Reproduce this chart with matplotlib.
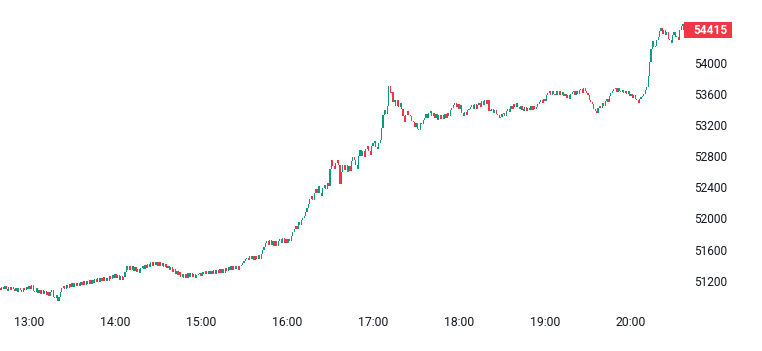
import numpy as np
import matplotlib.pyplot as plt
from matplotlib.patches import Rectangle
from matplotlib.transforms import blended_transform_factory

plt.rcParams['font.family'] = ['Roboto', 'DejaVu Sans']

# 1-minute closes, 12:40 .. 20:37
first_open = 51100
closes_1240 = [51080, 51125, 51090, 51130, 51095, 51070, 51120, 51085, 51125, 51090,
               51065, 51110, 51060, 51105, 51075, 51055, 51110, 51080, 51125, 51090]
closes_13 = [51135, 51090, 51140, 51070, 51055, 51100, 51045, 51085, 51035, 51075,
             51025, 51070, 51020, 51060, 51010, 51055, 51085, 50995, 50975, 51015,
             50945, 50985, 51060, 51105, 51135, 51090, 51145, 51105, 51155, 51115,
             51165, 51120, 51170, 51130, 51175, 51135, 51180, 51140, 51195, 51150,
             51200, 51155, 51205, 51160, 51215, 51170, 51225, 51180, 51230, 51185,
             51240, 51190, 51250, 51200, 51240, 51195, 51255, 51220, 51275, 51235]
closes_14 = [51280, 51230, 51270, 51215, 51260, 51205, 51245, 51310, 51385, 51335,
             51390, 51340, 51390, 51330, 51375, 51310, 51355, 51300, 51360, 51390,
             51350, 51405, 51365, 51420, 51380, 51435, 51395, 51445, 51400, 51440,
             51395, 51435, 51390, 51425, 51375, 51410, 51360, 51395, 51335, 51370,
             51310, 51350, 51290, 51330, 51270, 51310, 51245, 51285, 51230, 51280,
             51240, 51295, 51250, 51295, 51245, 51285, 51240, 51275, 51290, 51305]
closes_15 = [51265, 51315, 51280, 51325, 51285, 51330, 51285, 51325, 51290, 51335,
             51290, 51340, 51295, 51345, 51300, 51350, 51305, 51365, 51325, 51380,
             51335, 51385, 51340, 51390, 51345, 51385, 51340, 51390, 51400, 51430,
             51455, 51480, 51490, 51460, 51520, 51475, 51520, 51470, 51515, 51475,
             51525, 51480, 51545, 51590, 51630, 51690, 51715, 51660, 51720, 51660,
             51710, 51650, 51705, 51640, 51710, 51735, 51680, 51745, 51690, 51735]
closes_16 = [51685, 51740, 51705, 51770, 51830, 51870, 51900, 51865, 51950, 51910,
             51985, 52005, 52030, 52080, 52135, 52180, 52245, 52285, 52240, 52330,
             52375, 52325, 52420, 52320, 52290, 52395, 52430, 52380, 52455, 52410,
             52635, 52755, 52675, 52635, 52715, 52750, 52680, 52440, 52595, 52685,
             52625, 52690, 52600, 52675, 52615, 52735, 52795, 52745, 52680, 52640,
             52805, 52885, 52805, 52865, 52790, 52895, 52935, 52860, 52820, 52925]
closes_17 = [52965, 52990, 52915, 52890, 52970, 53005, 53165, 53325, 53395, 53345,
             53445, 53700, 53610, 53625, 53495, 53515, 53445, 53520, 53430, 53485,
             53405, 53310, 53235, 53325, 53380, 53330, 53320, 53245, 53240, 53180,
             53225, 53150, 53140, 53220, 53215, 53270, 53285, 53335, 53290, 53360,
             53375, 53315, 53355, 53290, 53335, 53270, 53325, 53275, 53330, 53280,
             53335, 53285, 53355, 53310, 53390, 53420, 53460, 53480, 53425, 53470]
closes_18 = [53410, 53455, 53350, 53310, 53365, 53325, 53390, 53410, 53435, 53455,
             53405, 53465, 53410, 53460, 53480, 53430, 53505, 53455, 53515, 53470,
             53520, 53380, 53385, 53405, 53350, 53390, 53335, 53330, 53290, 53300,
             53335, 53355, 53320, 53385, 53405, 53370, 53440, 53400, 53465, 53425,
             53480, 53430, 53410, 53445, 53395, 53385, 53425, 53375, 53420, 53390,
             53440, 53395, 53445, 53400, 53435, 53465, 53495, 53520, 53480, 53540]
closes_19 = [53505, 53585, 53615, 53635, 53585, 53640, 53595, 53580, 53640, 53590,
             53635, 53585, 53625, 53570, 53600, 53545, 53580, 53530, 53595, 53620,
             53635, 53590, 53640, 53595, 53645, 53660, 53610, 53675, 53635, 53610,
             53580, 53520, 53495, 53465, 53410, 53385, 53355, 53420, 53450, 53415,
             53485, 53450, 53510, 53540, 53500, 53575, 53610, 53635, 53660, 53675,
             53625, 53680, 53635, 53620, 53655, 53605, 53640, 53595, 53630, 53575]
closes_20 = [53600, 53550, 53590, 53530, 53515, 53480, 53535, 53560, 53575, 53600,
             53650, 53690, 53830, 54010, 54170, 54275, 54205, 54220, 54295, 54335,
             54405, 54440, 54370, 54415, 54350, 54390, 54310, 54285, 54250, 54350,
             54400, 54335, 54335, 54290, 54420, 54470, 54495, 54415]

closes = np.array(closes_1240 + closes_13 + closes_14 + closes_15 + closes_16
                  + closes_17 + closes_18 + closes_19 + closes_20, dtype=float)
opens = np.concatenate([[first_open], closes[:-1]])

hour_labels = ['13:00', '14:00', '15:00', '16:00', '17:00', '18:00', '19:00', '20:00']
hour_index = [20, 80, 140, 200, 260, 320, 380, 440]   # minute index of each full hour
price_ticks = [51200, 51600, 52000, 52400, 52800, 53200, 53600, 54000]

up_color = '#089981'
down_color = '#F23645'
text_color = '#131722'

fig = plt.figure(figsize=(7.62, 3.51), dpi=100)
ax = fig.add_axes([0, 46 / 351, 686 / 762, 305 / 351])

idx = np.arange(len(closes))
up = closes >= opens
colors = np.where(up, up_color, down_color)
bottoms = np.minimum(opens, closes)
heights = np.maximum(np.abs(closes - opens), 14)
ax.bar(idx, heights, bottom=bottoms, width=0.8, color=colors, linewidth=0)

ax.set_xlim(-0.2, 478.4)
ax.set_ylim(50888, 54805)

ax.set_xticks(hour_index, labels=hour_labels)
ax.yaxis.tick_right()
ax.set_yticks(price_ticks, labels=[str(p) for p in price_ticks])
ax.tick_params(axis='x', length=0, pad=8, labelsize=8.8, labelcolor=text_color)
ax.tick_params(axis='y', length=0, pad=6, labelsize=8.6, labelcolor=text_color)
for s in ax.spines.values():
    s.set_visible(False)

# last price label
last = closes[-1]
trans = blended_transform_factory(ax.transAxes, ax.transData)
px = (54805 - 50888) / 305
ax.add_patch(Rectangle((0.997, last - 8 * px), 48 / 686, 16 * px, transform=trans,
                       facecolor=down_color, edgecolor='none', clip_on=False))
ax.text(1.0 + 24 / 686, last, str(int(last)), transform=trans, ha='center', va='center',
        color='white', fontsize=8.6, fontweight='bold')

fig.savefig('out.png', dpi=100)
